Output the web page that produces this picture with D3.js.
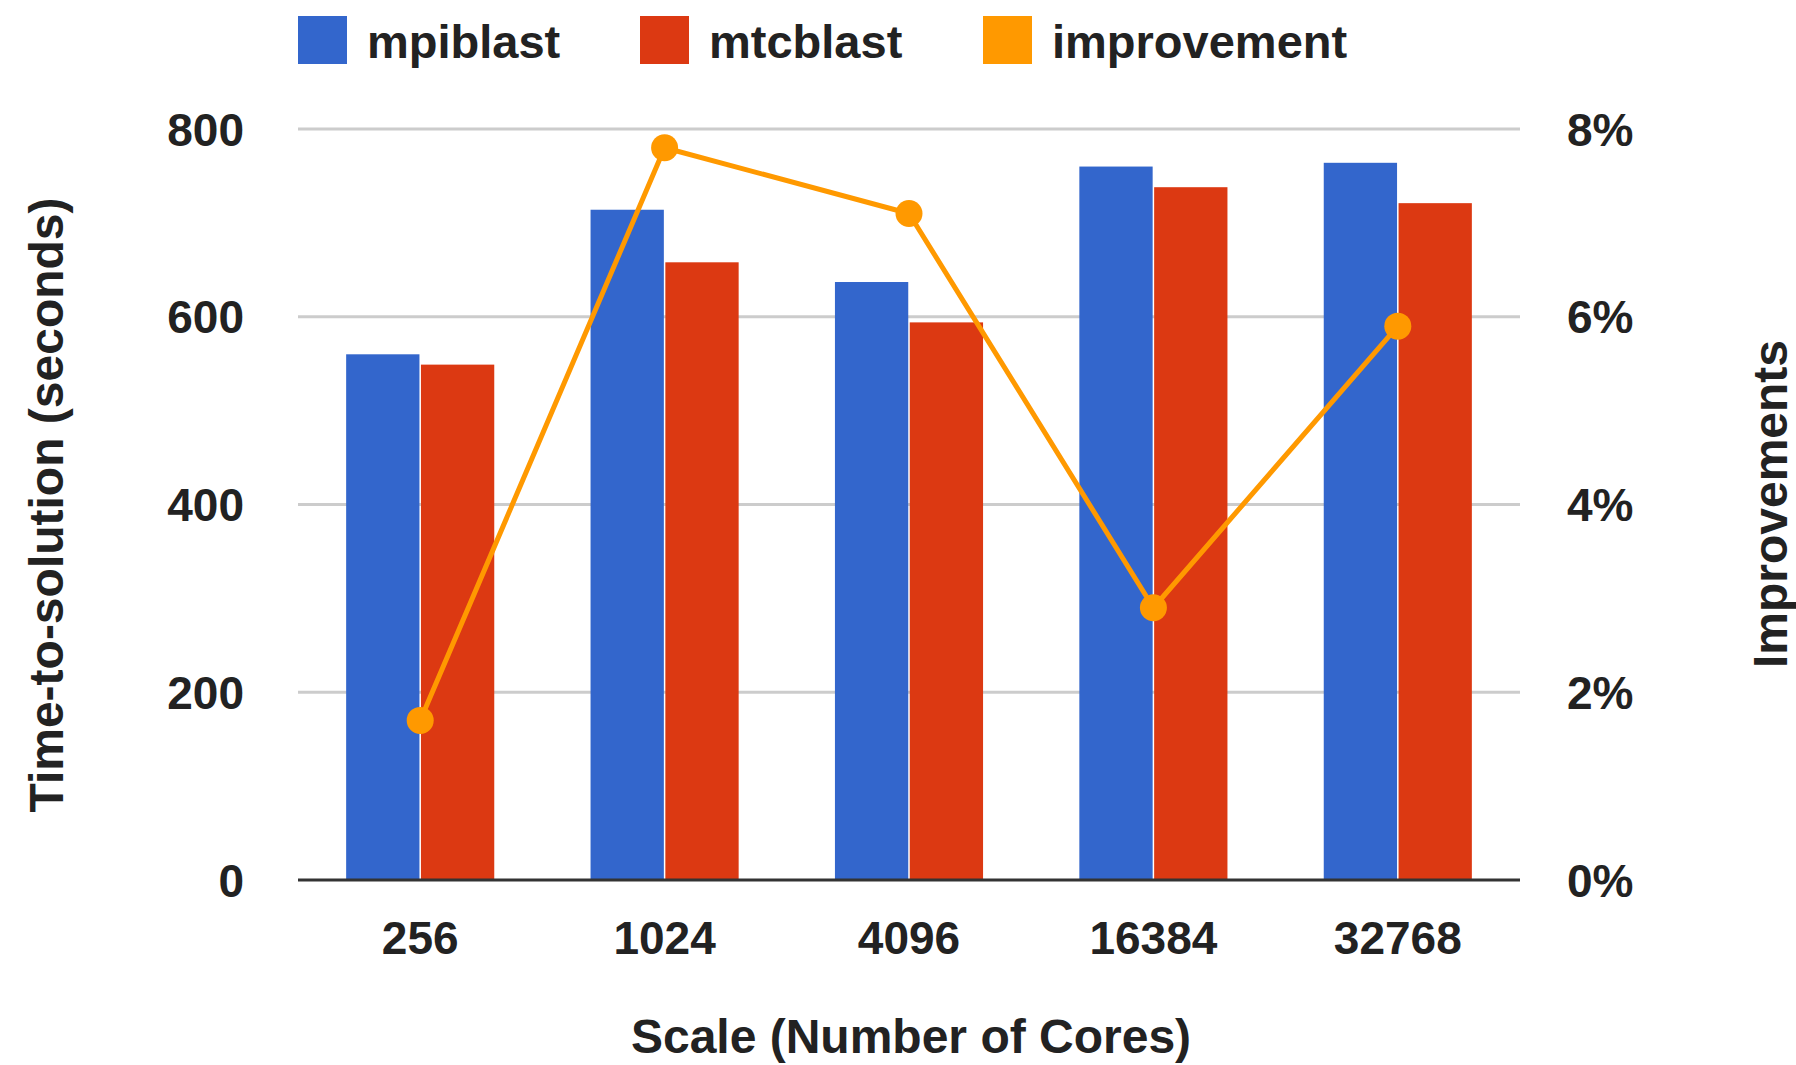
<!DOCTYPE html>
<html>
<head>
<meta charset="utf-8">
<script src="https://cdn.jsdelivr.net/npm/d3@7/dist/d3.min.js"></script>
<style>
  html, body { margin: 0; padding: 0; background: #fff; }
  svg { display: block; }
  text { font-family: "Liberation Sans", Arial, Helvetica, sans-serif; font-weight: bold; fill: #222; }
</style>
</head>
<body>
<script>
// Core counts on the x axis
const categories = ["256", "1024", "4096", "16384", "32768"];
// Time-to-solution in seconds
const mpiblast = [560, 714, 637, 760, 764];
const mtcblast = [549, 658, 594, 738, 721];
// Relative improvement of mtcblast over mpiblast (%)
const improvement = [1.7, 7.8, 7.1, 2.9, 5.9];
// Axis ticks
const leftTicks = [0, 200, 400, 600, 800];
const rightTicks = [0, 2, 4, 6, 8];
const seriesNames = ["mpiblast", "mtcblast", "improvement"];
const colors = ["#3366cc", "#dc3912", "#ff9900"];

const W = 1796, H = 1065;
const plot = { left: 298, right: 1520, top: 129, bottom: 880 };

const svg = d3.select("body").append("svg")
  .attr("width", W).attr("height", H);

const x = d3.scaleBand()
  .domain(categories)
  .range([plot.left, plot.right])
  .paddingInner(0.394)
  .paddingOuter(0.197);

const xInner = d3.scaleBand()
  .domain(["mpiblast", "mtcblast"])
  .range([0, x.bandwidth()])
  .paddingInner(0.02);

const yLeft = d3.scaleLinear().domain([0, 800]).range([plot.bottom, plot.top]);
const yRight = d3.scaleLinear().domain([0, 8]).range([plot.bottom, plot.top]);

// Horizontal gridlines
svg.append("g").selectAll("line")
  .data(leftTicks.filter(d => d > 0))
  .join("line")
  .attr("x1", plot.left).attr("x2", plot.right)
  .attr("y1", d => yLeft(d)).attr("y2", d => yLeft(d))
  .attr("stroke", "#cccccc").attr("stroke-width", 3);

// Bars
const barData = categories.map((c, i) => [
  { cat: c, key: "mpiblast", value: mpiblast[i], color: colors[0] },
  { cat: c, key: "mtcblast", value: mtcblast[i], color: colors[1] }
]).flat();

svg.append("g").selectAll("rect")
  .data(barData)
  .join("rect")
  .attr("x", d => x(d.cat) + xInner(d.key))
  .attr("width", xInner.bandwidth())
  .attr("y", d => yLeft(d.value))
  .attr("height", d => yLeft(0) - yLeft(d.value))
  .attr("fill", d => d.color);

// Baseline
svg.append("line")
  .attr("x1", plot.left).attr("x2", plot.right)
  .attr("y1", yLeft(0)).attr("y2", yLeft(0))
  .attr("stroke", "#333333").attr("stroke-width", 3);

// Improvement line on the right axis
const pts = categories.map((c, i) => [x(c) + x.bandwidth() / 2, yRight(improvement[i])]);
svg.append("path")
  .attr("d", d3.line()(pts))
  .attr("fill", "none")
  .attr("stroke", colors[2])
  .attr("stroke-width", 5)
  .attr("stroke-linejoin", "round");

svg.append("g").selectAll("circle")
  .data(pts)
  .join("circle")
  .attr("cx", d => d[0]).attr("cy", d => d[1])
  .attr("r", 13.5)
  .attr("fill", colors[2]);

// Left axis labels
svg.append("g").selectAll("text")
  .data(leftTicks)
  .join("text")
  .attr("x", 244)
  .attr("y", d => yLeft(d))
  .attr("dy", "0.36em")
  .attr("text-anchor", "end")
  .attr("font-size", 46)
  .text(d => d);

// Right axis labels
svg.append("g").selectAll("text")
  .data(rightTicks)
  .join("text")
  .attr("x", 1567)
  .attr("y", d => yRight(d))
  .attr("dy", "0.36em")
  .attr("text-anchor", "start")
  .attr("font-size", 46)
  .text(d => d + "%");

// Category labels
svg.append("g").selectAll("text")
  .data(categories)
  .join("text")
  .attr("x", d => x(d) + x.bandwidth() / 2)
  .attr("y", 937)
  .attr("dy", "0.36em")
  .attr("text-anchor", "middle")
  .attr("font-size", 46)
  .text(d => d);

// Axis titles
svg.append("text")
  .attr("x", 911).attr("y", 1036)
  .attr("dy", "0.36em")
  .attr("text-anchor", "middle")
  .attr("font-size", 48)
  .text("Scale (Number of Cores)");

svg.append("text")
  .attr("transform", "translate(46,505) rotate(-90)")
  .attr("dy", "0.36em")
  .attr("text-anchor", "middle")
  .attr("font-size", 48)
  .text("Time-to-solution (seconds)");

svg.append("text")
  .attr("transform", "translate(1770,504) rotate(-90)")
  .attr("dy", "0.36em")
  .attr("text-anchor", "middle")
  .attr("font-size", 48)
  .text("Improvements");

// Legend
const legendX = [298, 640, 983];
const legend = svg.append("g").selectAll("g")
  .data(seriesNames)
  .join("g")
  .attr("transform", (d, i) => `translate(${legendX[i]},16)`);
legend.append("rect")
  .attr("width", 49).attr("height", 48)
  .attr("fill", (d, i) => colors[i]);
legend.append("text")
  .attr("x", 69).attr("y", 25)
  .attr("dy", "0.36em")
  .attr("font-size", 47)
  .text(d => d);
</script>
</body>
</html>
